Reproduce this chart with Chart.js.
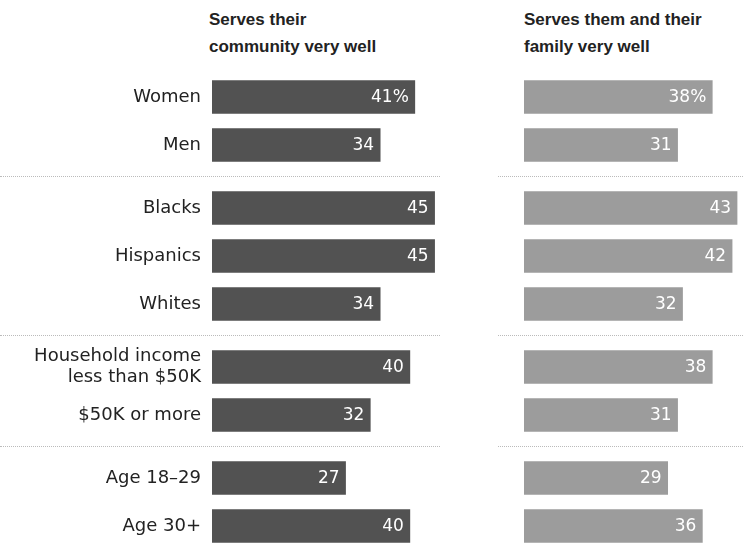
<!DOCTYPE html>
<html>
<head>
<meta charset="utf-8">
<script src="https://cdn.jsdelivr.net/npm/chart.js@4.4.1/dist/chart.umd.min.js"></script>
<style>
  body { margin:0; background:#fff; }
  #wrap { position:relative; width:743px; height:544px; overflow:hidden; font-family:"DejaVu Sans", sans-serif; }
  .head { position:absolute; top:6px; font-family:"Liberation Sans", Arial, sans-serif; font-weight:bold; font-size:17px; line-height:27px; color:#222; white-space:nowrap; }
  #groups { position:absolute; top:73px; left:0; width:743px; }
  .grp { position:relative; height:96px; }
  .grp canvas { position:absolute; top:0; }
  .sep { position:relative; height:15px; }
  .sep div { position:absolute; top:7px; border-top:1px dotted #bbb; }
</style>
</head>
<body>
<div id="wrap">
  <div class="head" style="left:209px">Serves their<br>community very well</div>
  <div class="head" style="left:524px">Serves them and their<br>family very well</div>
  <div id="groups"></div>
</div>
<script>
// data
var categories = ["Women", "Men", "Blacks", "Hispanics", "Whites",
    ["Household income", "less than $50K"], "$50K or more", "Age 18\u201329", "Age 30+"];
var communityVals = [41, 34, 45, 45, 34, 40, 32, 27, 40];
var familyVals = [38, 31, 43, 42, 32, 38, 31, 29, 36];
var groupSizes = [2, 3, 2, 2];

var rowH = 48;

// white number at the end of each bar
function valueLabels(first) {
    return {
        id: 'valueLabels',
        afterDatasetsDraw: function(chart) {
            var ctx = chart.ctx;
            var meta = chart.getDatasetMeta(0);
            var vals = chart.data.datasets[0].data;
            ctx.save();
            ctx.font = '17px "DejaVu Sans"';
            ctx.fillStyle = '#fff';
            ctx.textAlign = 'right';
            ctx.textBaseline = 'middle';
            meta.data.forEach(function(bar, i) {
                var t = vals[i] + ((first && i == 0) ? '%' : '');
                ctx.fillText(t, bar.x - 6, bar.y + 1);
            });
            ctx.restore();
        }
    };
}

// axisW = room left of the bars (labels on the left column, blank on the right)
function makeChart(canvas, labels, vals, color, showLabels, axisW, xmax, first) {
    new Chart(canvas.getContext('2d'), {
        type: 'bar',
        data: {
            labels: labels,
            datasets: [{ data: vals, backgroundColor: color, barThickness: 33 }]
        },
        options: {
            indexAxis: 'y',
            responsive: false,
            maintainAspectRatio: false,
            animation: false,
            layout: { padding: 0, autoPadding: false },
            plugins: { legend: { display: false }, tooltip: { enabled: false } },
            scales: {
                x: { display: false, min: 0, max: xmax },
                y: {
                    display: showLabels,
                    grid: { display: false, drawTicks: false },
                    border: { display: false },
                    ticks: { color: '#222', padding: 11, autoSkip: false, font: { family: 'DejaVu Sans', size: 18 } },
                    afterFit: function(s) {
                        s.width = axisW;
                        s.paddingTop = 0;
                        s.paddingBottom = 0;
                    }
                }
            }
        },
        plugins: [valueLabels(first)]
    });
}

var holder = document.getElementById('groups');
var start = 0;
for (var g = 0; g < groupSizes.length; g++) {
    var n = groupSizes[g];
    if (g > 0) {
        var sep = document.createElement('div');
        sep.className = 'sep';
        sep.innerHTML = '<div style="left:0;width:440px"></div><div style="left:498px;width:245px"></div>';
        holder.appendChild(sep);
    }
    var grp = document.createElement('div');
    grp.className = 'grp';
    grp.style.height = (n * rowH) + 'px';
    var c1 = document.createElement('canvas');
    c1.width = 490; c1.height = n * rowH; c1.style.left = '0px';
    var c2 = document.createElement('canvas');
    c2.width = 253; c2.height = n * rowH; c2.style.left = '490px';
    grp.appendChild(c1); grp.appendChild(c2);
    holder.appendChild(grp);

    var labs = categories.slice(start, start + n);
    makeChart(c1, labs, communityVals.slice(start, start + n), '#525252', true, 212, 56.2, g == 0);
    makeChart(c2, labs, familyVals.slice(start, start + n), '#9c9c9c', false, 34, 44.2, g == 0);
    start += n;
}
</script>
</body>
</html>
